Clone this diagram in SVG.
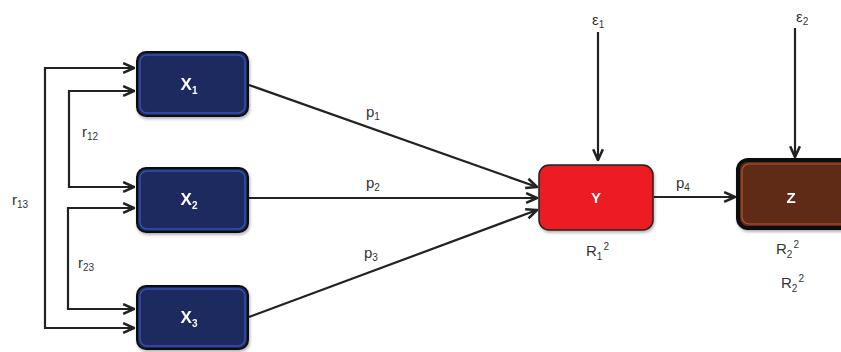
<svg xmlns="http://www.w3.org/2000/svg" width="841" height="352" viewBox="0 0 841 352">
<style>
.ln{fill:none;stroke:#222;stroke-width:2.2}
.lab{font-family:"Liberation Sans",Arial,sans-serif;font-size:15px;fill:#333}
.sub{font-size:10px}
.bt{font-family:"Liberation Sans",Arial,sans-serif;font-weight:bold;font-size:17px;fill:#fff;text-anchor:middle}
.bsub{font-size:10px}
.xb{fill:#1f2a5e;stroke:#111;stroke-width:2}
.xi{fill:none;stroke:#3450b0;stroke-width:1.5}
</style>
<defs>
<marker id="ah" viewBox="0 0 12 12" refX="11" refY="6" markerWidth="13" markerHeight="13" markerUnits="userSpaceOnUse" orient="auto">
<path d="M1,1.5 L11,6 L1,10.5" fill="none" stroke="#222" stroke-width="2.4"/>
</marker>
<filter id="sh" x="-10%" y="-10%" width="130%" height="140%">
<feDropShadow dx="1" dy="2" stdDeviation="1.5" flood-color="#000" flood-opacity="0.3"/>
</filter>
</defs>

<g id="connectors">
<path class="ln" d="M134,328 H45 V68 H134" marker-end="url(#ah)"/>
<path class="ln" d="M45,328 H134" marker-end="url(#ah)"/>
<path class="ln" d="M134,187 H69 V91 H134" marker-end="url(#ah)"/>
<path class="ln" d="M69,187 H134" marker-end="url(#ah)"/>
<path class="ln" d="M134,309 H68 V208 H134" marker-end="url(#ah)"/>
<path class="ln" d="M68,309 H134" marker-end="url(#ah)"/>
<path class="ln" d="M249,85 L537,187" marker-end="url(#ah)"/>
<path class="ln" d="M249,198 L537,198" marker-end="url(#ah)"/>
<path class="ln" d="M249,317 L537,210" marker-end="url(#ah)"/>
<path class="ln" d="M654,197 L735,197" marker-end="url(#ah)"/>
<path class="ln" d="M598,32 L598,160" marker-end="url(#ah)"/>
<path class="ln" d="M795,28 L795,157" marker-end="url(#ah)"/>
</g>

<g id="labels">
<text class="lab" x="12" y="205">r<tspan class="sub" dy="3">13</tspan></text>
<text class="lab" x="82" y="137">r<tspan class="sub" dy="3">12</tspan></text>
<text class="lab" x="78" y="268">r<tspan class="sub" dy="3">23</tspan></text>
<text class="lab" x="366" y="117">p<tspan class="sub" dy="3">1</tspan></text>
<text class="lab" x="366" y="188">p<tspan class="sub" dy="3">2</tspan></text>
<text class="lab" x="364" y="258">p<tspan class="sub" dy="3">3</tspan></text>
<text class="lab" x="676" y="188">p<tspan class="sub" dy="3">4</tspan></text>
<text class="lab" x="592" y="25">ε<tspan class="sub" dy="3">1</tspan></text>
<text class="lab" x="796" y="22">ε<tspan class="sub" dy="3">2</tspan></text>
<text class="lab" x="586" y="256">R<tspan class="sub" dy="4">1</tspan><tspan class="sub" dy="-10" dx="1">2</tspan></text>
<text class="lab" x="776" y="254">R<tspan class="sub" dy="4">2</tspan><tspan class="sub" dy="-10" dx="1">2</tspan></text>
<text class="lab" x="781" y="288">R<tspan class="sub" dy="4">2</tspan><tspan class="sub" dy="-10" dx="1">2</tspan></text>
</g>

<g id="X1" filter="url(#sh)">
<rect class="xb" x="137" y="52" width="111" height="64" rx="9"/>
<rect class="xi" x="140" y="55" width="105" height="58" rx="7"/>
<text class="bt" x="189" y="90">X<tspan class="bsub" dy="4">1</tspan></text>
</g>
<g id="X2" filter="url(#sh)">
<rect class="xb" x="137" y="168" width="111" height="64" rx="9"/>
<rect class="xi" x="140" y="171" width="105" height="58" rx="7"/>
<text class="bt" x="189" y="205">X<tspan class="bsub" dy="4">2</tspan></text>
</g>
<g id="X3" filter="url(#sh)">
<rect class="xb" x="137" y="286" width="111" height="63" rx="9"/>
<rect class="xi" x="140" y="289" width="105" height="57" rx="7"/>
<text class="bt" x="189" y="323">X<tspan class="bsub" dy="4">3</tspan></text>
</g>
<g id="Y" filter="url(#sh)">
<rect x="539" y="165" width="114" height="65" rx="10" fill="#ed1c24" stroke="#222" stroke-width="1.5"/>
<text class="bt" x="596" y="203" style="font-size:15px">Y</text>
</g>
<g id="Z" filter="url(#sh)">
<rect x="738" y="160" width="120" height="68" rx="10" fill="#5e2c17" stroke="#111" stroke-width="4"/>
<rect x="742" y="164" width="112" height="60" rx="7" fill="none" stroke="#b0592a" stroke-width="1.2"/>
<text class="bt" x="791" y="203" style="font-size:15px">Z</text>
</g>
</svg>
